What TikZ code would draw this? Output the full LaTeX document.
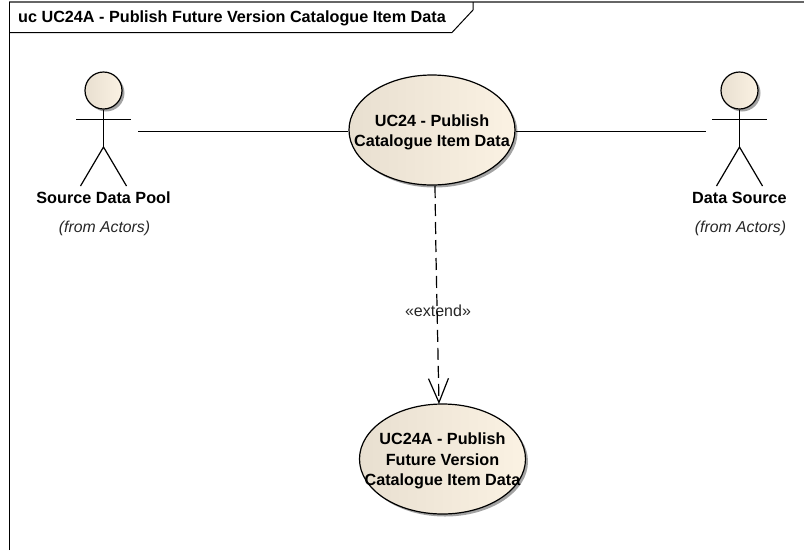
\documentclass[tikz,border=0pt]{standalone}
\usepackage{fontspec}
\setmainfont{Liberation Sans}
\usetikzlibrary{arrows.meta,shadows,shapes.geometric,positioning}
\definecolor{ucleft}{HTML}{E8DFD0}
\definecolor{ucright}{HTML}{FBF2E3}
\newcommand{\ucgap}{\rule{0pt}{16pt}}
\tikzset{
  usecase/.style={ellipse, draw=black, line width=1.2pt, minimum width=166pt, minimum height=110pt, inner xsep=-25pt, inner ysep=0pt,
    left color=ucleft, right color=ucright, align=center, font=\fontsize{16.2}{20.5}\selectfont\bfseries,
    drop shadow={shadow xshift=2.5pt, shadow yshift=-2.5pt, fill=black!45, opacity=0.8}},
  head/.style={circle, draw=black, line width=1.2pt, minimum size=37pt, inner sep=0pt,
    left color=ucleft, right color=ucright,
    drop shadow={shadow xshift=2.5pt, shadow yshift=-2.5pt, fill=black!45, opacity=0.8}},
  limb/.style={line width=1.2pt},
  actorname/.style={font=\fontsize{16.2}{20}\selectfont\bfseries},
  fromtext/.style={font=\fontsize{15.8}{20}\selectfont\itshape, text=black!85},
  assoc/.style={line width=1.2pt},
  extends/.style={line width=1.2pt, dash pattern=on 12pt off 6pt, -{Straight Barb[length=24pt,width=20pt,line width=1.2pt]}}
}
\begin{document}
\begin{tikzpicture}[x=1pt,y=-1pt]
  \useasboundingbox (0,0) rectangle (804,550);

  % Frame
  \draw[line width=1.5pt, black!60] (9,2) -- (804,2);
  \draw[line width=1.2pt] (9.5,550) -- (9.5,2);
  \draw[line width=1pt] (9.5,32.5) -- (452,32.5) -- (473,10) -- (473,2);
  \node[anchor=west, font=\fontsize{16.2}{20}\selectfont\bfseries, inner sep=0pt] (title) at (18,18) {uc UC24A - Publish Future Version Catalogue Item Data};

  % Use cases
  \node[usecase] (publish) at (432,130) {\ucgap UC24 - Publish\\Catalogue Item Data};
  \node[usecase] (future) at (442.5,459) {\ucgap UC24A - Publish\\Future Version\\Catalogue Item Data};

  % Actors
  \foreach \name/\cx/\label in {pool/103.5/Source Data Pool, source/739.5/Data Source} {
    \node[head] (\name head) at (\cx,90.5) {};
    \coordinate (\name hip) at (\cx,147);
    \coordinate (\name larm) at (\cx-27.5,119.5);
    \coordinate (\name rarm) at (\cx+27.5,119.5);
    \coordinate (\name lfoot) at (\cx-23,186);
    \coordinate (\name rfoot) at (\cx+23,186);
    \draw[limb] (\name head) -- (\name hip);
    \draw[limb] (\name larm) -- (\name rarm);
    \draw[limb] (\name lfoot) -- (\name hip) -- (\name rfoot);
    \node[actorname] (\name label) at (\cx,197.5) {\label};
    \node[fromtext] (\name from) at (\cx+1,228) {(from Actors)};
  }

  % Associations
  \coordinate (poolend) at (138,131.5);
  \coordinate (sourceend) at (706,131.5);
  \draw[assoc] (poolend) -- (poolend -| publish.west);
  \draw[assoc] (sourceend -| publish.east) -- (sourceend);

  % Extend
  \node[font=\fontsize{16}{20}\selectfont, text=black!85] (extendlabel) at (438,311) {«extend»};
  \coordinate (bend) at (436,256);
  \coordinate (tip) at (439,404);
  \coordinate (start) at (435,186);
  \draw[extends] (start) -- (bend) -- (tip);

\end{tikzpicture}
\end{document}
